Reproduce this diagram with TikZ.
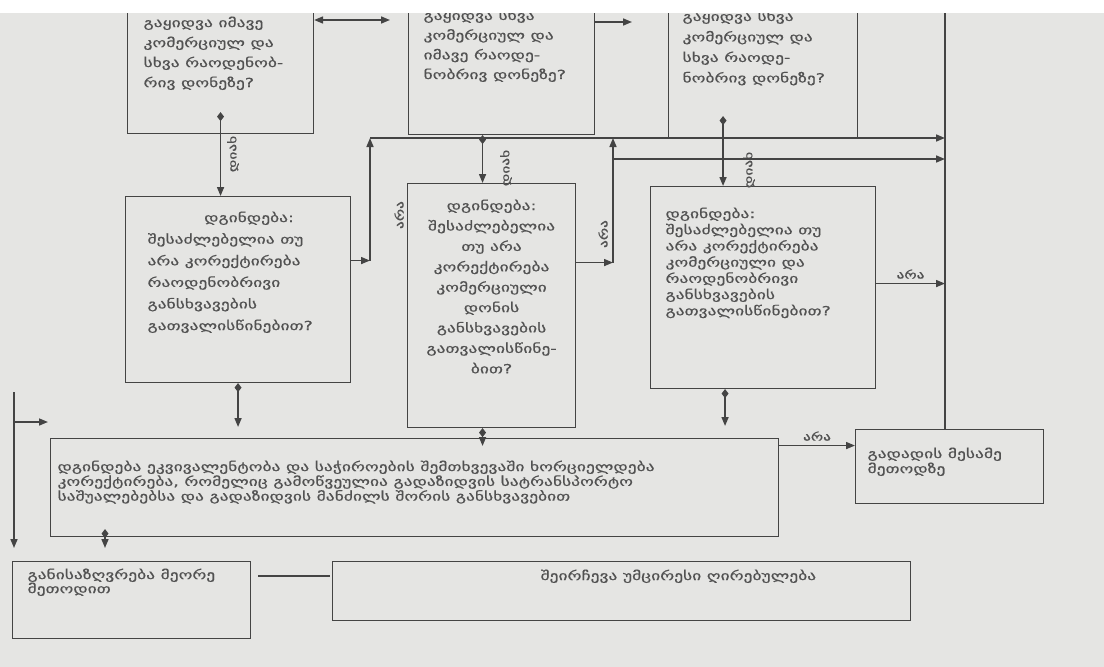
\documentclass[tikz,border=0pt]{standalone}
\usepackage{fontspec}
\newfontfamily\geo[FakeStretch=1.4,FakeBold=0.6]{DejaVu Sans}
\usetikzlibrary{arrows.meta}
\definecolor{paper}{RGB}{229,229,227}
\definecolor{ink}{RGB}{68,68,68}
\definecolor{txt}{RGB}{82,82,82}
% box text: width, height, left pad, top pad, leading, text
\newcommand\bx[6]{\parbox[c][#2pt][t]{#1pt}{\geo\fontsize{12.5}{#5}\selectfont\raggedright\leftskip=#3pt\relax\vspace*{#4pt}#6\par}}
\tikzset{
  box/.style={draw=ink, line width=1.1pt, inner sep=0pt, anchor=north west, text=txt},
  flow/.style={draw=ink, line width=1.6pt, -{Triangle[length=9pt,width=7pt]}},
  dflow/.style={flow, {Diamond[length=9pt,width=7pt]}-{Triangle[length=9pt,width=7pt]}},
  lbl/.style={text=txt, font=\geo\fontsize{11}{12}\selectfont, inner sep=1pt}
}

\begin{document}
\begin{tikzpicture}[x=1pt,y=-1pt]
	\useasboundingbox (0,0) rectangle (1104,667);
	\fill[white] (0,0) rectangle (1104,13);
	\fill[paper] (0,13) rectangle (1104,667);
	\clip (0,13) rectangle (1104,667);

	% top row
	\node[box] (A) at (127,-10) {\bx{186}{143}{16}{26}{20}{გაყიდვა იმავე\\კომერციულ და\\სხვა რაოდენობ-\\რივ დონეზე?}};
	\node[box] (B) at (408,-10) {\bx{186}{144}{15}{19}{19.7}{გაყიდვა სხვა\\კომერციულ და\\იმავე რაოდე-\\ნობრივ დონეზე?}};
	\node[box] (C) at (668,-10) {\bx{189}{147}{14}{20}{20.5}{გაყიდვა სხვა\\კომერციულ და\\სხვა რაოდე-\\ნობრივ დონეზე?}};

	% middle row
	\node[box] (D) at (125,196) {\bx{225}{186}{22}{15}{21.6}{\hfill დგინდება:\hfill\null\\შესაძლებელია თუ\\არა კორექტირება\\რაოდენობრივი\\განსხვავების\\გათვალისწინებით?}};
	\node[box] (E) at (407,183) {\bx{168}{244}{0}{16}{20.4}{\centering დგინდება:\\შესაძლებელია\\თუ არა\\კორექტირება\\კომერციული\\დონის\\განსხვავების\\გათვალისწინე-\\ბით?}};
	\node[box] (F) at (650,186) {\bx{225}{202}{15}{21}{16.2}{დგინდება:\\შესაძლებელია თუ\\არა კორექტირება\\კომერციული და\\რაოდენობრივი\\განსხვავების\\გათვალისწინებით?}};

	% bottom rows
	\node[box] (G) at (50,438) {\bx{728}{98}{7}{22}{14.8}{დგინდება ეკვივალენტობა და საჭიროების შემთხვევაში ხორციელდება\\კორექტირება, რომელიც გამოწვეულია გადაზიდვის სატრანსპორტო\\საშუალებებსა და გადაზიდვის მანძილს შორის განსხვავებით}};
	\node[box] (H) at (855,429) {\bx{188}{74}{12}{18}{15}{გადადის მესამე\\მეთოდზე}};
	\node[box] (I) at (12,561) {\bx{238}{77}{15}{7}{14}{განისაზღვრება მეორე\\მეთოდით}};
	\node[box] (J) at (332,561) {\bx{578}{59}{208}{8}{14}{შეირჩევა უმცირესი ღირებულება}};

	\coordinate (r1) at (0,20);
	\coordinate (r2) at (0,22);
	\coordinate (h1) at (0,138);
	\coordinate (h2) at (0,159);
	\coordinate (rr) at (945,0);
	\coordinate (dc) at (370,0);
	\coordinate (ec) at (613,0);
	\coordinate (lc) at (14,392);
	\coordinate (gl) at (0,422);

	% top arrows
	\draw[flow, {Triangle[length=9pt,width=7pt]}-{Triangle[length=9pt,width=7pt]}, shorten >=18pt] (A.east |- r1) -- (B.west |- r1);
	\draw[flow, shorten >=36pt] (B.east |- r2) -- (C.west |- r2);

	% yes branches
	\draw[dflow] ([yshift=22pt]A.south) -- (A.south |- D.north);
	\node[lbl, rotate=90] (yA) at (233,154) {დიახ};
	\draw[dflow] ([xshift=-19pt]B.south) -- ([xshift=-19pt]B.south |- E.north);
	\node[lbl, rotate=90] (yB) at (506,168) {დიახ};
	\draw[dflow] ([xshift=-40pt,yshift=22pt]C.south) -- ([xshift=-40pt]C.south |- F.north);
	\node[lbl, rotate=90] (yC) at (749,170) {დიახ};

	% no branches
	\draw[flow] ([yshift=29pt]D.east) -- ([yshift=29pt]D.east -| dc);
	\draw[flow] ([yshift=29pt]D.east -| dc) -- (dc |- h1);
	\draw[flow] (dc |- h1) -- (rr |- h1);
	\node[lbl, rotate=90] (nD) at (399,215) {არა};
	\draw[flow] ([yshift=43pt]E.east) -- ([yshift=43pt]E.east -| ec);
	\draw[flow] ([yshift=43pt]E.east -| ec) -- (ec |- h1);
	\draw[flow] (ec |- h2) -- (rr |- h2);
	\node[lbl, rotate=90] (nE) at (603,234) {არა};
	\draw[flow] ([yshift=4pt]F.east) -- ([yshift=4pt]F.east -| rr) node[lbl, midway, above=3pt] (nF) {არა};
	\draw[ink, line width=1.6pt] (rr) -- (rr |- H.north);

	% into the bottom box
	\draw[dflow, shorten >=11pt] (D.south) -- (D.south |- G.north);
	\draw[dflow, shorten >=-8pt] ([xshift=-9pt]E.south) -- ([xshift=-9pt]E.south |- G.north);
	\draw[dflow, shorten >=12pt] ([xshift=-38pt]F.south) -- ([xshift=-38pt]F.south |- G.north);
	\draw[flow] ([yshift=42pt]G.east) -- ([yshift=42pt]G.east -| H.west) node[lbl, midway, above=3pt] (nG) {არა};

	% left side
	\draw[flow, shorten >=13pt] (lc) -- (lc |- I.north);
	\draw[flow, shorten >=2pt] (lc |- gl) -- (G.west |- gl);
	\draw[dflow, shorten >=13pt] ([xshift=55pt,yshift=8pt]G.south west) -- ([xshift=55pt]G.south west |- I.north);
	\draw[ink, line width=1.2pt] ([xshift=7pt,yshift=-15pt]I.north east) -- ([xshift=-2pt,yshift=-15pt]I.north east -| J.west);
\end{tikzpicture}
\end{document}
